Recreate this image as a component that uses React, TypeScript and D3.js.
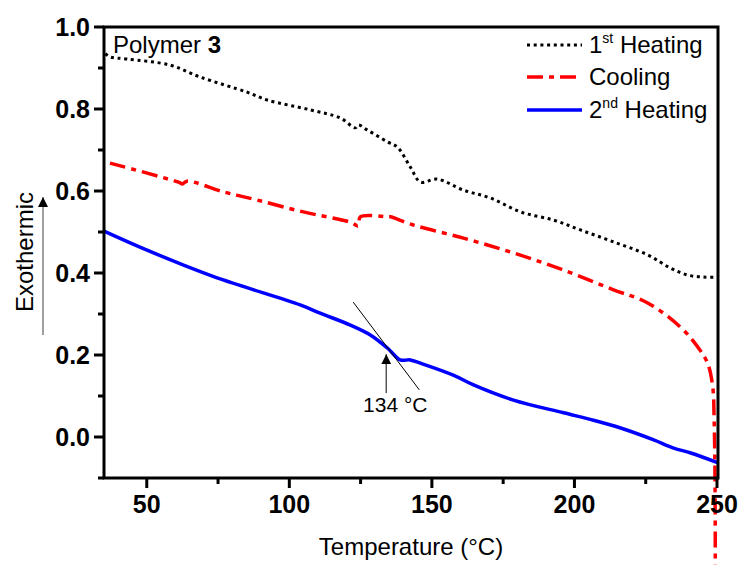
import React from "react";
import * as d3 from "d3";

const heat1T = [35.5, 37.1, 43.1, 58.2, 68.7, 85.2, 92.2, 107.3, 117.9, 123.1, 124.2, 127.3, 134.4, 137.9, 142.4, 146.0, 151.9, 161.1, 170.5, 181.1, 192.7, 202.1, 213.7, 225.7, 233.7, 239.7, 245.3, 250.2];
const heat1V = [0.935, 0.927, 0.922, 0.907, 0.878, 0.841, 0.822, 0.798, 0.778, 0.754, 0.761, 0.749, 0.72, 0.707, 0.659, 0.622, 0.629, 0.602, 0.583, 0.549, 0.529, 0.505, 0.476, 0.444, 0.412, 0.395, 0.39, 0.39];

const coolT = [37.1, 61.7, 62.4, 64.1, 76.8, 88.7, 104.9, 121.4, 124.2, 124.9, 134.4, 135.4, 143.5, 161.1, 178.6, 196.2, 213.7, 225.7, 237.2, 243.2, 246.7, 248.5, 249.0, 249.3, 249.4];
const coolV = [0.668, 0.62, 0.617, 0.624, 0.598, 0.578, 0.549, 0.524, 0.515, 0.537, 0.537, 0.537, 0.517, 0.485, 0.449, 0.407, 0.359, 0.327, 0.268, 0.22, 0.18, 0.122, 0.041, -0.1, -0.32];

const heat2T = [35, 47.6, 62.7, 76.8, 103.8, 110.8, 121.4, 128.4, 134.4, 138.9, 142.4, 146.0, 157.5, 164.6, 178.6, 196.2, 206.7, 216.2, 227.8, 234.8, 240.8, 250.4];
const heat2V = [0.502, 0.463, 0.42, 0.383, 0.322, 0.302, 0.273, 0.249, 0.217, 0.188, 0.188, 0.18, 0.151, 0.127, 0.09, 0.059, 0.041, 0.022, -0.007, -0.027, -0.039, -0.063];

const xMajor = [50, 100, 150, 200, 250];
const xMinor = [75, 125, 175, 225];
const yMajor = [0.0, 0.2, 0.4, 0.6, 0.8, 1.0];
const yMinor = [-0.1, 0.1, 0.3, 0.5, 0.7, 0.9];

const tangentT = [122.4, 145.6];
const tangentV = [0.329, 0.115];
const arrowT = 134;
const arrowV = [0.107, 0.202];

const FONT = "'Liberation Sans', Arial, Helvetica, sans-serif";

export default function App() {
  const W = 744, H = 565;
  const x = d3.scaleLinear().domain([35, 250]).range([104, 717]);
  const y = d3.scaleLinear().domain([-0.1, 1.0]).range([478, 27]);

  const mk = (ts: number[], vs: number[]) =>
    d3.line<number>().x((_, i) => x(ts[i])).y((_, i) => y(vs[i])).curve(d3.curveCatmullRom.alpha(0.5))(ts.map((_, i) => i)) || "";

  const x0 = x(35), x1 = 718, yT = 27, yB = y(-0.1);

  const legend = [
    { label: "1", sup: "st", rest: " Heating", color: "#000", dash: "3,3.7", w: 3 },
    { label: "Cooling", sup: "", rest: "", color: "#ff0000", dash: "16,6,5,6", w: 3.5 },
    { label: "2", sup: "nd", rest: " Heating", color: "#0000ff", dash: "", w: 3.5 },
  ];
  const legY = [45, 77, 110];

  return (
    <svg width={W} height={H} style={{ position: "absolute", left: 0, top: 0, background: "#fff" }} fontFamily={FONT}>
      <defs>
        <marker id="ah" viewBox="0 0 10 10" refX="10" refY="5" markerWidth="10" markerHeight="10" markerUnits="userSpaceOnUse" orient="auto">
          <path d="M0,0 L10,5 L0,10 z" fill="#000" />
        </marker>
      </defs>

      {/* curves */}
      <path d={mk(heat1T, heat1V)} fill="none" stroke="#000" strokeWidth={3} strokeDasharray="3,3.7" />
      <path d={mk(coolT, coolV)} fill="none" stroke="#ff0000" strokeWidth={3.5} strokeDasharray="16,6,5,6" />
      <path d={mk(heat2T, heat2V)} fill="none" stroke="#0000ff" strokeWidth={3.5} />

      {/* frame */}
      <path d={`M${x0},${yB} L${x0},${yT} L${x1},${yT} L${x1},${yB} Z`} fill="none" stroke="#000" strokeWidth={3} />

      {/* y ticks */}
      {yMajor.map((v) => (
        <g key={"ym" + v}>
          <line x1={x0 - 10} x2={x0} y1={y(v)} y2={y(v)} stroke="#000" strokeWidth={3} />
          <text x={90} y={y(v) + 9} textAnchor="end" fontSize={25} fontWeight="bold">{v.toFixed(1)}</text>
        </g>
      ))}
      {yMinor.map((v) => (
        <line key={"yn" + v} x1={x0 - 6} x2={x0} y1={y(v)} y2={y(v)} stroke="#000" strokeWidth={3} />
      ))}

      {/* x ticks */}
      {xMajor.map((t) => (
        <g key={"xm" + t}>
          <line x1={x(t)} x2={x(t)} y1={yB} y2={yB + 10} stroke="#000" strokeWidth={3} />
          <text x={x(t)} y={yB + 35} textAnchor="middle" fontSize={25} fontWeight="bold">{t}</text>
        </g>
      ))}
      {xMinor.map((t) => (
        <line key={"xn" + t} x1={x(t)} x2={x(t)} y1={yB} y2={yB + 6} stroke="#000" strokeWidth={3} />
      ))}

      {/* axis titles */}
      <text x={(x0 + x1) / 2} y={555} textAnchor="middle" fontSize={24}>Temperature (°C)</text>
      <text transform={`translate(33,252) rotate(-90)`} textAnchor="middle" fontSize={24}>Exothermic</text>
      <line x1={43} x2={43} y1={335} y2={197} stroke="#808080" strokeWidth={1.5} markerEnd="url(#ah)" />

      {/* polymer label */}
      <text x={113} y={53} fontSize={24}>Polymer <tspan fontWeight="bold">3</tspan></text>

      {/* legend */}
      {legend.map((l, i) => (
        <g key={"lg" + i}>
          <line x1={527} x2={582} y1={legY[i]} y2={legY[i]} stroke={l.color} strokeWidth={l.w} strokeDasharray={l.dash || undefined} />
          <text x={589} y={legY[i] + 8} fontSize={24}>
            {l.label}
            {l.sup ? <tspan fontSize={14} dy={-10}>{l.sup}</tspan> : null}
            {l.rest ? <tspan dy={l.sup ? 10 : 0}>{l.rest}</tspan> : null}
          </text>
        </g>
      ))}

      {/* annotation */}
      <line x1={x(tangentT[0])} y1={y(tangentV[0])} x2={x(tangentT[1])} y2={y(tangentV[1])} stroke="#000" strokeWidth={1} />
      <line x1={x(arrowT)} x2={x(arrowT)} y1={y(arrowV[0])} y2={y(arrowV[1])} stroke="#555" strokeWidth={1.5} markerEnd="url(#ah)" />
      <text x={x(arrowT) + 9} y={412} textAnchor="middle" fontSize={21}>134 °C</text>
    </svg>
  );
}
